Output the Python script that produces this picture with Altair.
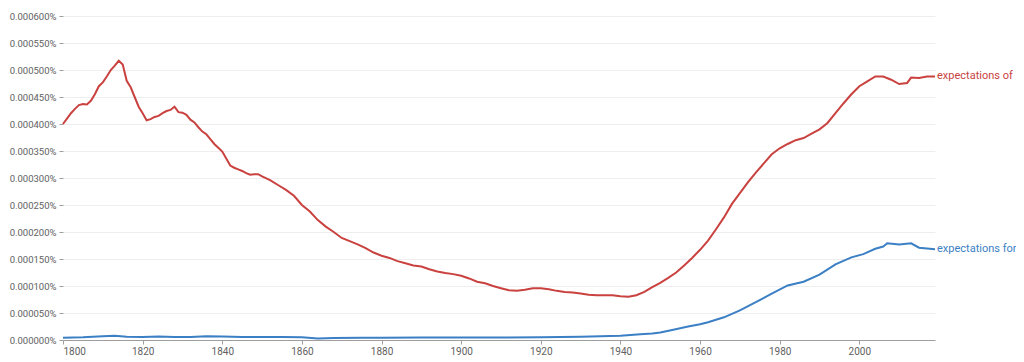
import altair as alt
import pandas as pd

# values in units of 1e-6 percent
red_years = [1800,1801,1802,1803,1804,1805,1806,1807,1808,1809,1810,1811,1812,1813,1814,1815,1816,1817,1818,1819,
             1820,1821,1822,1823,1824,1825,1826,1827,1828,1829,1830,1831,1832,1833,1834,1835,1836,1837,1838,1839,
             1840,1841,1842,1843,1844,1845,1846,1847,1848,1849,1850,1852,1854,1856,1858,1860,1862,1864,1866,1868,
             1870,1872,1874,1876,1878,1880,1882,1884,1886,1888,1890,1892,1894,1896,1898,1900,1902,1904,1906,1908,
             1910,1912,1914,1916,1918,1920,1922,1924,1926,1928,1930,1932,1934,1936,1938,1940,1942,1944,1946,1948,
             1950,1952,1954,1956,1958,1960,1962,1964,1966,1968,1970,1972,1974,1976,1978,1980,1982,1984,1986,1988,
             1990,1992,1994,1996,1998,2000,2002,2004,2006,2008,2010,2012,2013,2015,2017,2019]
red_vals = [400,410,420,428,435,437,436,443,455,470,477,488,500,508,517,510,480,468,450,432,
            420,407,409,413,415,420,424,426,432,422,421,417,408,403,394,386,381,372,363,356,
            349,336,323,319,316,313,309,306,307,307,303,296,287,278,267,250,238,222,210,200,
            189,183,177,170,162,156,152,146,142,138,136,131,127,124,122,119,114,108,105,100,
            96,92,91,93,96,96,94,91,89,88,86,84,83,83,83,81,80,83,89,98,
            106,115,125,138,152,167,184,205,227,252,272,292,310,327,344,355,363,370,374,382,
            390,402,420,438,455,470,479,488,488,482,474,476,486,485,488,488]

blue_years = [1800,1805,1810,1813,1816,1820,1824,1828,1832,1836,1840,1845,1850,1855,1860,1864,1868,1875,1880,1890,
              1900,1910,1920,1930,1940,1945,1948,1950,1953,1957,1960,1962,1966,1970,1974,1978,1982,1986,1990,1994,
              1998,2001,2004,2006,2007,2010,2013,2015,2019]
blue_vals = [4,5,7,8,6,5.5,6.5,5.5,5.5,7,6.5,5.5,5.5,5.5,5,3,3.5,4,4,4.5,
             4.5,4.5,5,6,8,10.5,12,14,18.5,25,29,33,42,55,70,86,101,108,121,140,
             153,159,169,173,179,177,179,171,168]

series_names = ["expectations of", "expectations for"]
series_colors = ["#c9423f", "#3b7fc4"]
y_ticks = [0, 50, 100, 150, 200, 250, 300, 350, 400, 450, 500, 550, 600]  # units of 1e-6 %
x_ticks = [1800, 1820, 1840, 1860, 1880, 1900, 1920, 1940, 1960, 1980, 2000]

rows = []
for y, v in zip(red_years, red_vals):
    rows.append({"year": y, "value": v, "series": series_names[0]})
for y, v in zip(blue_years, blue_vals):
    rows.append({"year": y, "value": v, "series": series_names[1]})
df = pd.DataFrame(rows)

last = pd.DataFrame([
    {"year": red_years[-1], "value": red_vals[-1], "series": series_names[0]},
    {"year": blue_years[-1], "value": blue_vals[-1], "series": series_names[1]},
])

color = alt.Color("series:N", scale=alt.Scale(domain=series_names, range=series_colors), legend=None)

x = alt.X("year:Q", scale=alt.Scale(domain=[1800, 2019], nice=False, zero=False),
          axis=alt.Axis(values=x_ticks, tickCount=20,
                        format="d", title=None, grid=False, domainColor="#9e9e9e", tickColor="#9e9e9e",
                        tickSize=4, labelColor="#616161", labelFontSize=10, labelFont="Roboto", labelPadding=2,
                        labelOverlap=False))
y = alt.Y("value:Q", scale=alt.Scale(domain=[0, 600], nice=False),
          axis=alt.Axis(values=y_ticks, tickCount=20,
                        labelExpr="format(datum.value / 1000000, '.6f') + '%'",
                        title=None, domain=False, tickColor="#9e9e9e", tickSize=4, labelPadding=3,
                        gridColor="#eeeeee", labelColor="#616161", labelFontSize=9.5, labelFont="Roboto",
                        labelOverlap=False))

lines = alt.Chart(df).mark_line(strokeWidth=2).encode(x=x, y=y, color=color, detail="series:N")
labels = alt.Chart(last).mark_text(align="left", baseline="middle", dx=2, fontSize=11, font="Roboto").encode(
    x="year:Q", y="value:Q", text="series:N", color=color)

chart = (lines + labels).properties(
    width=872, height=324,
    autosize=alt.AutoSizeParams(type="none"),
    padding={"left": 55, "top": 8, "right": 81, "bottom": 22},
).configure_view(stroke=None)

chart.save("out.html", embed_options={"renderer": "svg", "actions": False})
